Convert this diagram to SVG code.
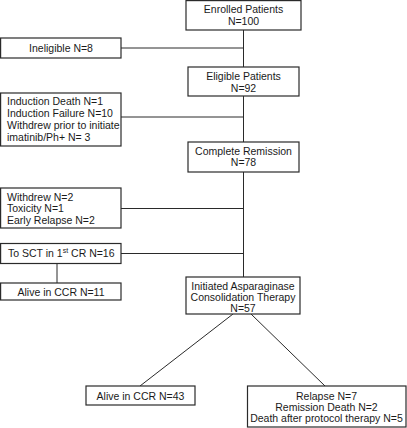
<svg xmlns="http://www.w3.org/2000/svg" width="407" height="428" viewBox="0 0 407 428">
<style>
rect{fill:#fff;stroke:#2a2a2a;stroke-width:1.2}
line{stroke:#2a2a2a;stroke-width:1}
text{font-family:"Liberation Sans",Arial,sans-serif;font-size:10.5px;fill:#1a1a1a}
.c{text-anchor:middle}
</style>
<rect x="0" y="0" width="407" height="428" style="stroke:none"/>
<g id="connectors">
<line x1="243.5" y1="30" x2="243.5" y2="67"/>
<line x1="121" y1="48" x2="243.5" y2="48"/>
<line x1="243.5" y1="96" x2="243.5" y2="142"/>
<line x1="121" y1="117" x2="243.5" y2="117"/>
<line x1="243.5" y1="172" x2="243.5" y2="277"/>
<line x1="121" y1="208.5" x2="243.5" y2="208.5"/>
<line x1="118" y1="253.5" x2="243.5" y2="253.5"/>
<line x1="57" y1="263.5" x2="57" y2="283"/>
<line x1="233" y1="314" x2="140" y2="386"/>
<line x1="251" y1="314" x2="325" y2="386"/>
</g>
<g id="enrolled">
<rect x="186" y="0.6" width="115" height="29.4"/>
<text class="c" x="243.5" y="13">Enrolled Patients</text>
<text class="c" x="243.5" y="25">N=100</text>
</g>
<g id="ineligible">
<rect x="0.6" y="38" width="120.4" height="20"/>
<text class="c" x="61" y="51.5">Ineligible N=8</text>
</g>
<g id="eligible">
<rect x="188" y="67" width="111" height="29"/>
<text class="c" x="243.5" y="80">Eligible Patients</text>
<text class="c" x="243.5" y="92">N=92</text>
</g>
<g id="induction">
<rect x="0.6" y="93" width="120.4" height="53"/>
<text x="7" y="105">Induction Death N=1</text>
<text x="7" y="117">Induction Failure N=10</text>
<text x="7" y="129">Withdrew prior to initiate</text>
<text x="7" y="141">imatinib/Ph+ N= 3</text>
</g>
<g id="complete-remission">
<rect x="188" y="142" width="111" height="30"/>
<text class="c" x="243.5" y="154.5">Complete Remission</text>
<text class="c" x="243.5" y="166">N=78</text>
</g>
<g id="withdrew">
<rect x="0.6" y="188" width="120.4" height="40"/>
<text x="7" y="200.5">Withdrew N=2</text>
<text x="7" y="212">Toxicity N=1</text>
<text x="7" y="223.5">Early Relapse N=2</text>
</g>
<g id="sct">
<rect x="0.6" y="243.5" width="120.4" height="20"/>
<text x="8" y="257">To SCT in 1<tspan dy="-4" font-size="7">st</tspan><tspan dy="4"> CR N=16</tspan></text>
</g>
<g id="alive-ccr-11">
<rect x="0.6" y="283" width="120.4" height="17"/>
<text class="c" x="61" y="295.5">Alive in CCR N=11</text>
</g>
<g id="initiated">
<rect x="186" y="277" width="114" height="37"/>
<text class="c" x="243" y="289.5">Initiated Asparaginase</text>
<text class="c" x="243" y="300.5">Consolidation Therapy</text>
<text class="c" x="243" y="312">N=57</text>
</g>
<g id="alive-ccr-43">
<rect x="86" y="386" width="109" height="19"/>
<text class="c" x="140.5" y="399.5">Alive in CCR N=43</text>
</g>
<g id="relapse">
<rect x="247.5" y="386" width="158.5" height="41"/>
<text class="c" x="326.5" y="400">Relapse N=7</text>
<text class="c" x="326.5" y="411">Remission Death N=2</text>
<text class="c" x="326.5" y="422">Death after protocol therapy N=5</text>
</g>
</svg>
